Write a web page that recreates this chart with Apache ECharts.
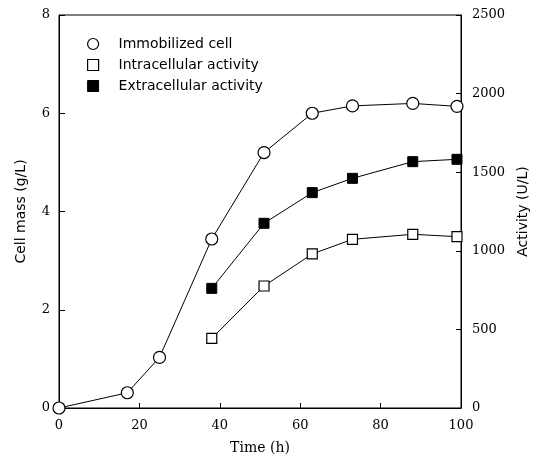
<!DOCTYPE html>
<html><head><meta charset="utf-8">
<script src="https://cdn.jsdelivr.net/npm/echarts@6/dist/echarts.min.js"></script>
<style>html,body{margin:0;padding:0;background:#fff}#c{width:535px;height:459px}</style>
</head><body><div id="c"></div>
<script>
const cellTime = [0, 17, 25, 38, 51, 63, 73, 88, 99];
const cellMass = [0, 0.31, 1.03, 3.44, 5.2, 6.0, 6.15, 6.2, 6.14];
const actTime = [38, 51, 63, 73, 88, 99];
const intraAct = [443, 776, 980, 1073, 1105, 1090];
const extraAct = [761, 1175, 1370, 1461, 1567, 1582];
const xTicks = [0, 20, 40, 60, 80, 100];
const seriesNames = ['Immobilized cell', 'Intracellular activity', 'Extracellular activity'];

const pair = (xs, ys) => xs.map((x, i) => [x, ys[i]]);
const tickFont = {fontFamily: 'DejaVu Serif', fontSize: 13, color: '#000', formatter: v => String(v)};
const chart = echarts.init(document.getElementById('c'));
chart.setOption({
  animation: false,
  backgroundColor: '#fff',
  grid: {left: 59, top: 15, right: 74, bottom: 51, show: true, borderColor: '#000', borderWidth: 1,
         containLabel: false, outerBoundsMode: 'none'},
  legend: {
    orient: 'vertical', left: 82, top: 31, itemWidth: 11, itemHeight: 11, itemGap: 5,
    textStyle: {fontFamily: 'DejaVu Sans', fontSize: 14, color: '#000', padding: [0, 0, 0, 15], lineHeight: 16},
    data: [
      {name: seriesNames[0], icon: 'circle', itemStyle: {color: '#fff', borderColor: '#000', borderWidth: 1.2}},
      {name: seriesNames[1], icon: 'rect', itemStyle: {color: '#fff', borderColor: '#000', borderWidth: 1.2}},
      {name: seriesNames[2], icon: 'rect', itemStyle: {color: '#000', borderColor: '#000', borderWidth: 1}}
    ]
  },
  xAxis: {
    type: 'value', min: 0, max: 100, interval: 20,
    name: 'Time (h)', nameLocation: 'middle', nameGap: 33,
    nameTextStyle: {fontFamily: 'DejaVu Serif', fontSize: 14, color: '#000'},
    axisLine: {lineStyle: {color: '#000', width: 1}},
    axisTick: {inside: true, length: 5, lineStyle: {color: '#000'}},
    axisLabel: Object.assign({margin: 11}, tickFont),
    splitLine: {show: false}
  },
  yAxis: [{
    type: 'value', min: 0, max: 8, interval: 2,
    name: 'Cell mass (g/L)', nameLocation: 'middle', nameGap: 31,
    nameTextStyle: {fontFamily: 'DejaVu Sans', fontSize: 14, color: '#000'},
    axisLine: {show: true, lineStyle: {color: '#000', width: 1}},
    axisTick: {show: true, inside: true, length: 6, lineStyle: {color: '#000'}},
    axisLabel: Object.assign({margin: 9}, tickFont),
    splitLine: {show: false}
  }, {
    type: 'value', min: 0, max: 2500, interval: 500, position: 'right',
    name: 'Activity (U/L)', nameLocation: 'middle', nameGap: 52, nameRotate: 90,
    nameTextStyle: {fontFamily: 'DejaVu Sans', fontSize: 14, color: '#000'},
    axisLine: {show: true, lineStyle: {color: '#000', width: 1}},
    axisTick: {show: true, inside: true, length: 5, lineStyle: {color: '#000'}},
    axisLabel: Object.assign({margin: 11}, tickFont),
    splitLine: {show: false}
  }],
  series: [{
    name: seriesNames[0], type: 'line', yAxisIndex: 0, data: pair(cellTime, cellMass),
    symbol: 'circle', symbolSize: 12, showAllSymbol: true,
    lineStyle: {color: '#000', width: 1},
    itemStyle: {color: '#fff', borderColor: '#000', borderWidth: 1.2}, z: 3
  }, {
    name: seriesNames[1], type: 'line', yAxisIndex: 1, data: pair(actTime, intraAct),
    symbol: 'rect', symbolSize: 10,
    lineStyle: {color: '#000', width: 1},
    itemStyle: {color: '#fff', borderColor: '#000', borderWidth: 1.2}, z: 3
  }, {
    name: seriesNames[2], type: 'line', yAxisIndex: 1, data: pair(actTime, extraAct),
    symbol: 'rect', symbolSize: 10,
    lineStyle: {color: '#000', width: 1},
    itemStyle: {color: '#000', borderColor: '#000', borderWidth: 1}, z: 3
  }]
});
</script></body></html>
